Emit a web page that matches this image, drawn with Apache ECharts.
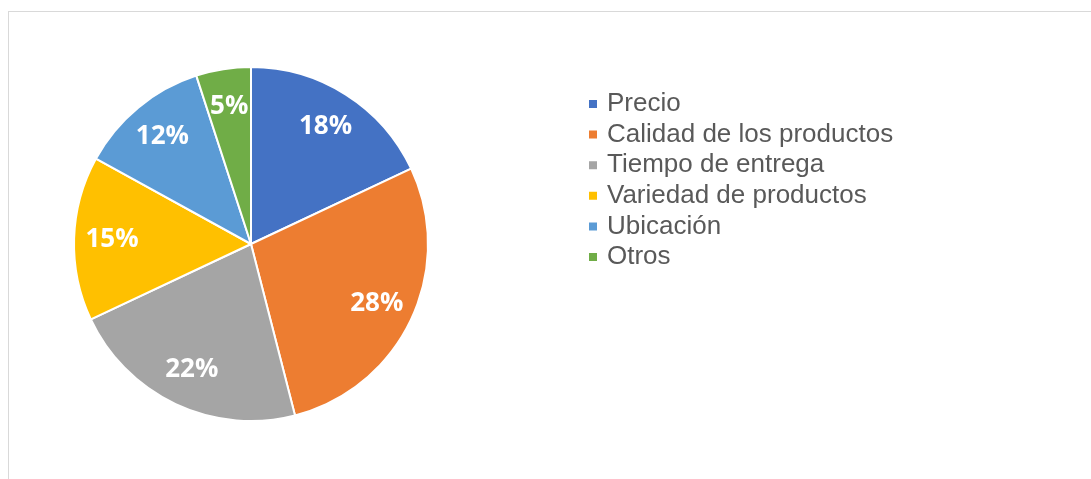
<!DOCTYPE html>
<html>
<head>
<meta charset="utf-8">
<script src="https://cdn.jsdelivr.net/npm/echarts@6/dist/echarts.min.js"></script>
<style>
  html, body { margin: 0; padding: 0; background: #ffffff; }
  #wrap { position: relative; width: 1091px; height: 479px; overflow: hidden; }
  /* marco gris del gráfico */
  #frame {
    position: absolute; left: 8px; top: 11px; width: 1200px; height: 600px;
    border: 1px solid #d9d9d9; box-sizing: border-box;
  }
  #chart { position: absolute; left: 0; top: 0; width: 1091px; height: 479px; }
</style>
</head>
<body>
<div id="wrap">
  <div id="frame"></div>
  <div id="chart"></div>
</div>
<script>
const categories = ['Precio', 'Calidad de los productos', 'Tiempo de entrega', 'Variedad de productos', 'Ubicación', 'Otros'];
const values = [18, 28, 22, 15, 12, 5];
const colors = ['#4472C4', '#ED7D31', '#A5A5A5', '#FFC000', '#5B9BD5', '#70AD47'];

const data = categories.map((name, i) => ({
  name: name,
  value: values[i],
  itemStyle: { color: colors[i] }
}));

const chart = echarts.init(document.getElementById('chart'));

const option = {
  backgroundColor: 'transparent',
  animation: false,
  legend: {
    orient: 'vertical',
    left: 582,
    top: 86,
    icon: 'rect',
    itemWidth: 10,
    itemHeight: 10,
    itemGap: 4.6,
    data: categories,
    textStyle: {
      color: '#595959',
      fontFamily: 'Liberation Sans, Arial, sans-serif',
      fontSize: 26,
      lineHeight: 26,
      padding: [0, 0, 0, 4]
    }
  },
  series: [
    {
      name: 'main',
      type: 'pie',
      center: [251, 244],
      radius: [0, 177],
      startAngle: 90,
      clockwise: true,
      data: data,
      label: { show: false },
      labelLine: { show: false },
      itemStyle: { borderColor: '#ffffff', borderWidth: 2 },
      emphasis: { disabled: true }
    },
    {
      // capa transparente sólo para colocar las etiquetas a ~0.77 del radio
      name: 'labels',
      type: 'pie',
      center: [251, 244],
      radius: [95, 177],
      startAngle: 90,
      clockwise: true,
      silent: true,
      legendHoverLink: false,
      data: categories.map((name, i) => ({ name: name + ' ', value: values[i] })),
      itemStyle: { color: 'rgba(0,0,0,0)' },
      labelLine: { show: false },
      label: {
        show: true,
        position: 'inside',
        formatter: (p) => p.value + '%',
        color: '#ffffff',
        fontFamily: 'Open Sans, sans-serif',
        fontWeight: 'bold',
        fontSize: 26
      },
      emphasis: { disabled: true }
    }
  ]
};

chart.setOption(option);
</script>
</body>
</html>
